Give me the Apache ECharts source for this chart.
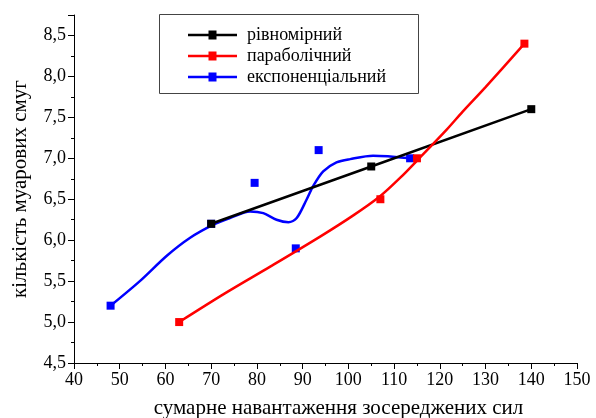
<!DOCTYPE html>
<html>
<head>
<meta charset="utf-8">
<script src="https://cdn.jsdelivr.net/npm/echarts@6/dist/echarts.min.js"></script>
<style>
html,body{margin:0;padding:0;background:#fff;}
#chart{width:596px;height:418px;}
</style>
</head>
<body>
<div id="chart"></div>
<script>
// Series names (legend)
var seriesNames = ['рівномірний', 'параболічний', 'експоненціальний'];
// Axis titles
var xAxisTitle = 'сумарне навантаження зосереджених сил';
var yAxisTitle = 'кількість муарових смуг';

// Measured points [x, y]
var uniformPoints = [[70, 6.2], [105, 6.9], [140, 7.6]];
var parabolicPoints = [[63, 5.0], [107, 6.5], [115, 7.0], [138.5, 8.4]];
var exponentialPoints = [[48, 5.2], [70, 6.2], [79.5, 6.7], [88.5, 5.9], [93.5, 7.1], [113.5, 7.0]];

// Fitted curves [x, y]
var parabolicCurve = [[63, 5.0], [73, 5.35], [83, 5.68], [94, 6.05], [101, 6.3], [107, 6.54],
  [111.3, 6.76], [115.5, 7.0], [121.5, 7.35], [125, 7.57], [130, 7.87], [138.5, 8.4]];
var exponentialCurve = [[48, 5.2], [54.4, 5.5], [60.3, 5.81], [65.4, 6.03], [70.5, 6.19], [74.1, 6.27],
  [78.5, 6.35], [81.4, 6.33], [84.3, 6.25], [86.9, 6.22], [88.7, 6.27], [90.9, 6.5], [92.3, 6.66],
  [94.5, 6.84], [97.4, 6.95], [100.4, 6.99], [105.4, 7.03], [113.5, 7.0]];

var FONT = 'Liberation Serif, serif';
var LEGEND_ICON = 'path://M0,3.25 H20.5 V0 H28.5 V3.25 H49 V5.75 H28.5 V9 H20.5 V5.75 H0 Z';
var chart = echarts.init(document.getElementById('chart'), null, {renderer: 'canvas'});

function fmt(v) { return v.toFixed(1).replace('.', ','); }

chart.setOption({
  animation: false,
  backgroundColor: '#fff',
  textStyle: {fontFamily: FONT, color: '#000'},
  grid: {left: 74, right: 19, top: 15, bottom: 55, containLabel: false, outerBoundsMode: 'none'},
  graphic: [{
    type: 'rect', z: 0,
    shape: {x: 159.5, y: 14.5, width: 259, height: 79},
    style: {fill: '#fff', stroke: '#444', lineWidth: 1}
  }],
  legend: {
    orient: 'vertical', left: 183, top: 21,
    itemWidth: 49, itemHeight: 9, itemGap: 3,
    data: seriesNames.map(function (n) { return {name: n, icon: LEGEND_ICON}; }),
    textStyle: {fontFamily: FONT, fontSize: 18, color: '#000', padding: [0, 0, 0, 5]},
    z: 5
  },
  xAxis: {
    type: 'value', min: 40, max: 150, interval: 10,
    name: xAxisTitle, nameLocation: 'middle', nameGap: 35,
    nameTextStyle: {fontFamily: FONT, fontSize: 21, color: '#000', padding: [0, 0, 0, 26]},
    axisLine: {lineStyle: {color: '#000', width: 1}},
    axisTick: {show: true, length: 6, lineStyle: {color: '#000'}},
    minorTick: {show: true, splitNumber: 2, length: 3, lineStyle: {color: '#000'}},
    splitLine: {show: false},
    axisLabel: {fontFamily: FONT, fontSize: 18, color: '#000', margin: 8}
  },
  yAxis: {
    type: 'value', min: 4.5, max: 8.75, interval: 0.5,
    name: yAxisTitle, nameLocation: 'middle', nameGap: 43, nameRotate: 90,
    nameTextStyle: {fontFamily: FONT, fontSize: 21, color: '#000'},
    axisLine: {show: true, lineStyle: {color: '#000', width: 1}},
    axisTick: {show: true, length: 6, lineStyle: {color: '#000'}},
    minorTick: {show: true, splitNumber: 2, length: 3, lineStyle: {color: '#000'}},
    splitLine: {show: false},
    axisLabel: {fontFamily: FONT, fontSize: 18, color: '#000', margin: 8,
      showMaxLabel: false, formatter: fmt}
  },
  series: [
    {
      name: seriesNames[0], type: 'line', data: uniformPoints, z: 4,
      symbol: 'rect', symbolSize: 8, showSymbol: true,
      lineStyle: {color: '#000', width: 2.5}, itemStyle: {color: '#000', opacity: 1}
    },
    {
      name: seriesNames[1], type: 'line', data: parabolicCurve, z: 5, smooth: 0.3,
      symbol: 'none', showSymbol: false,
      lineStyle: {color: '#ff0000', width: 2.5}, itemStyle: {color: '#ff0000'}
    },
    {
      name: seriesNames[1], type: 'scatter', data: parabolicPoints, z: 5,
      symbol: 'rect', symbolSize: 8, itemStyle: {color: '#ff0000', opacity: 1}
    },
    {
      name: seriesNames[2], type: 'line', data: exponentialCurve, z: 3, smooth: 0.3,
      symbol: 'none', showSymbol: false,
      lineStyle: {color: '#0000ff', width: 2.5}, itemStyle: {color: '#0000ff'}
    },
    {
      name: seriesNames[2], type: 'scatter', data: exponentialPoints, z: 3,
      symbol: 'rect', symbolSize: 8, itemStyle: {color: '#0000ff', opacity: 1}
    }
  ]
});
</script>
</body>
</html>
